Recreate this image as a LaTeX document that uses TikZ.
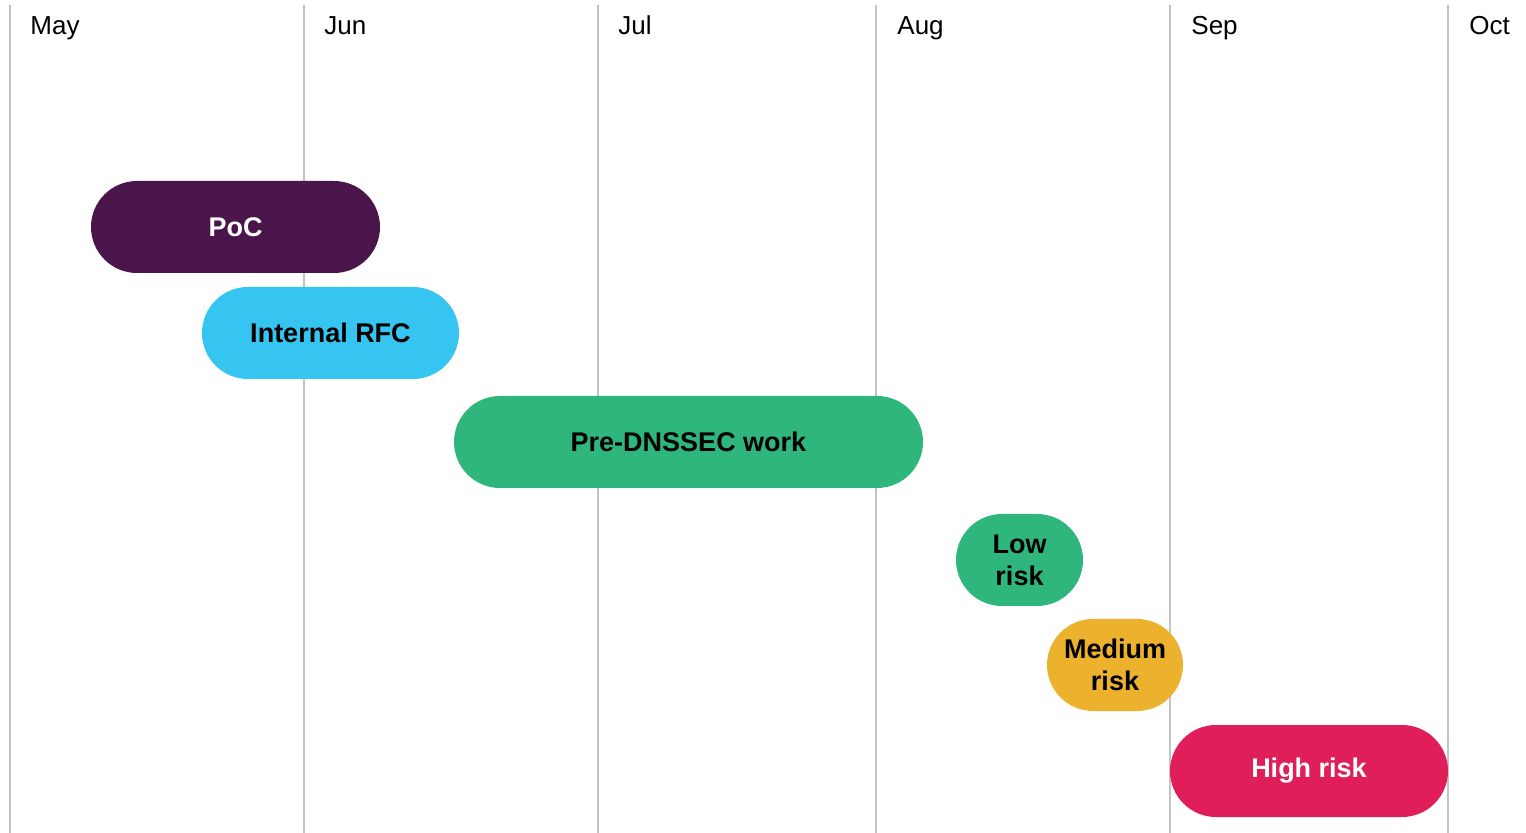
\documentclass[tikz,border=0pt]{standalone}
\usepackage{fontspec}
\setmainfont{Liberation Sans}
\definecolor{aubergine}{HTML}{4A154B}
\definecolor{skyblue}{HTML}{36C5F0}
\definecolor{slackgreen}{HTML}{2EB67D}
\definecolor{slackyellow}{HTML}{ECB22E}
\definecolor{slackred}{HTML}{E01E5A}
\definecolor{gridgray}{HTML}{C4C4C4}
\tikzset{
    ML/.style ={anchor=base west, inner sep=0pt, font=\fontsize{13}{15}\selectfont},
    VL/.style ={draw=gridgray, line width=1pt},
    BA/.style ={rectangle, rounded corners=23pt, minimum height=46pt, inner sep=0pt,
                align=center, font=\fontsize{13.5}{16}\selectfont\bfseries},
    BA1/.style ={BA, fill=aubergine, text=white},
    BA2/.style ={BA, fill=skyblue, text=black},
    BA3/.style ={BA, fill=slackgreen, text=black},
    BA4/.style ={BA, fill=slackyellow, text=black},
    BA5/.style ={BA, fill=slackred, text=white}}

\begin{document}
\begin{tikzpicture}[x=0.5pt,y=-0.5pt]
        \useasboundingbox (0,0) rectangle (1526,833);
        % month grid
        \draw[VL] (10,5) -- (10,833);
        \draw[VL] (304,5) -- (304,833);
        \draw[VL] (598,5) -- (598,833);
        \draw[VL] (876,5) -- (876,833);
        \draw[VL] (1170,5) -- (1170,833);
        \draw[VL] (1448,5) -- (1448,833);
        \node[ML] (may) at(30,35){May};
        \node[ML] (jun) at(324,35){Jun};
        \node[ML] (jul) at(618,35){Jul};
        \node[ML] (aug) at(897,35){Aug};
        \node[ML] (sep) at(1191,35){Sep};
        \node[ML] (oct) at(1469,35){Oct};
        % bars
        \node[BA1, minimum width=144.5pt] (poc) at(235.5,227){PoC};
        \node[BA2, minimum width=128.5pt] (rfc) at(330.5,333){Internal RFC};
        \node[BA3, minimum width=234.5pt] (pre) at(688.5,442){Pre-DNSSEC work};
        \node[BA3, minimum width=63.5pt] (low) at(1019.5,560){Low\\risk};
        \node[BA4, minimum width=68pt] (med) at(1115,665){Medium\\risk};
        \node[BA5, minimum width=139pt] (high) at(1309,771){High risk};
\end{tikzpicture}
\end{document}
